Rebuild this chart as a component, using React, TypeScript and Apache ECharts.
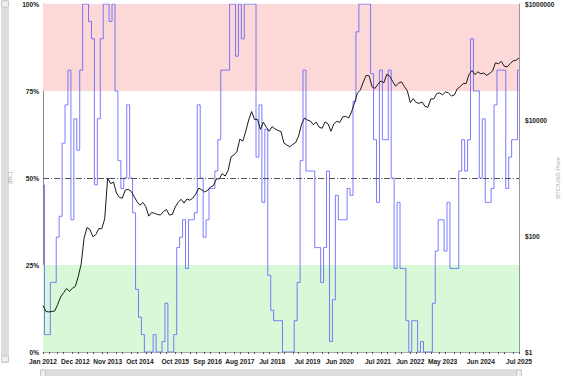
import React, { useEffect, useRef } from "react";
import * as echarts from "echarts";

const MONTH_NAMES = ["Jan", "Feb", "Mar", "Apr", "May", "Jun", "Jul", "Aug", "Sep", "Oct", "Nov", "Dec"];
const START_YEAR = 2012;
const MONTH_COUNT = 163; // Jan 2012 .. Jul 2025

const categories: string[] = [];
for (let i = 0; i < MONTH_COUNT; i++) {
  categories.push(MONTH_NAMES[i % 12] + " " + (START_YEAR + Math.floor(i / 12)));
}

const tickLabels = [
  "Jan 2012", "Dec 2012", "Nov 2013", "Oct 2014", "Oct 2015", "Sep 2016", "Aug 2017",
  "Jul 2018", "Jul 2019", "Jun 2020", "Jul 2021", "Jun 2022", "May 2023", "Jun 2024", "Jul 2025",
];

// Oscillator [BC] in %, monthly
const oscillator = [
  48, 5, 5, 20, 20, 33, 39, 60, 71, 81, 38, 67,
  58, 81, 100, 100, 95, 90, 48, 67, 90, 100, 100, 95,
  100, 75, 55, 47, 50, 71, 50, 40, 18, 10, 5, 0,
  0, 0, 5, 0, 0, 3, 14, 0, 0, 5, 30, 33,
  38, 24, 38, 38, 40, 71, 50, 33, 38, 47, 47, 52,
  61, 81, 81, 81, 100, 100, 85, 100, 90, 100, 100, 100,
  100, 56, 71, 43, 64, 22, 12, 9, 9, 9, 0, 0,
  0, 0, 9, 20, 55, 81, 52, 52, 52, 30, 30, 20,
  30, 52, 3, 15, 45, 38, 38, 38, 47, 45, 72, 92,
  100, 100, 100, 100, 80, 61, 43, 81, 61, 61, 81, 50,
  24, 43, 24, 24, 9, 0, 9, 9, 0, 3, 0, 0,
  0, 14, 29, 38, 38, 29, 43, 24, 24, 24, 52, 61,
  52, 61, 90, 75, 75, 50, 67, 43, 43, 47, 71, 81,
  81, 81, 47, 56, 61, 61, 81,
];

// BTC/USD price, monthly
const btcPrice = [
  6.3, 5.0, 4.9, 5.0, 5.1, 6.6, 8.9, 10.5, 12.4, 11.2, 12.5, 13.5,
  20, 33, 93, 140, 129, 97, 106, 135, 133, 198, 1000, 800,
  850, 550, 460, 450, 620, 640, 590, 480, 390, 340, 380, 320,
  220, 255, 245, 235, 230, 265, 285, 230, 235, 315, 380, 430,
  370, 435, 415, 450, 530, 670, 625, 575, 610, 700, 740, 960,
  970, 1190, 1080, 1350, 2300, 2500, 2850, 4700, 4300, 6400, 10000, 14000,
  10200, 10300, 6900, 9200, 7500, 6400, 7700, 7000, 6600, 6300, 4000, 3700,
  3450, 3800, 4100, 5300, 8500, 10800, 10000, 9600, 8300, 9200, 7500, 7200,
  9300, 8600, 6400, 8600, 9500, 9100, 11300, 11600, 10800, 13800, 19700, 29000,
  33000, 45000, 58800, 57700, 37300, 35000, 41500, 47100, 43800, 61300, 57000, 46300,
  38500, 43200, 45500, 37700, 31800, 19900, 23300, 20000, 19400, 20500, 17200, 16500,
  23100, 23100, 28500, 29200, 27200, 30500, 29200, 26000, 27000, 34500, 37700, 42300,
  42600, 61200, 71300, 60700, 67500, 62700, 64600, 59000, 63300, 70200, 96400, 93400,
  102400, 84400, 82500, 94200, 104600, 107100, 117000,
];

const FONT = "Liberation Sans";

export default function App() {
  const ref = useRef<HTMLDivElement>(null);

  useEffect(() => {
    document.body.style.margin = "0";
    if (!ref.current) return;
    const chart = echarts.init(ref.current, undefined, { renderer: "svg" });
    const labelStyle = { fontSize: 6.6, fontWeight: "bold" as const, color: "#222", fontFamily: FONT };
    chart.setOption({
      animation: false,
      grid: { left: 43, right: 45, top: 4, bottom: 24, containLabel: false, outerBoundsMode: "none" },
      xAxis: {
        type: "category",
        data: categories,
        boundaryGap: false,
        axisLine: { show: true, lineStyle: { color: "#aaa", width: 1 } },
        axisTick: {
          show: true,
          interval: (i: number) => i % 5 === 0 || i % 5 === 2,
          length: 2,
          lineStyle: { color: "#555" },
        },
        axisLabel: {
          ...labelStyle,
          interval: (_i: number, v: string) => tickLabels.includes(v),
          margin: 6,
        },
        splitLine: { show: false },
      },
      yAxis: [
        {
          type: "value",
          min: 0,
          max: 100,
          interval: 25,
          position: "left",
          name: "[BC]",
          nameLocation: "middle",
          nameGap: 30,
          nameRotate: 90,
          nameMoveOverlap: false,
          nameTextStyle: { color: "#aaa", fontSize: 6, fontFamily: FONT },
          axisLine: { show: true, lineStyle: { color: "#888" } },
          axisTick: { show: false },
          axisLabel: { ...labelStyle, formatter: "{value}%", margin: 4 },
          splitLine: { show: false },
        },
        {
          type: "log",
          logBase: 10,
          min: 1,
          max: 1000000,
          interval: 2,
          splitNumber: 3,
          position: "right",
          name: "BTC/USD Price",
          nameLocation: "middle",
          nameGap: 36,
          nameRotate: 90,
          nameMoveOverlap: false,
          nameTextStyle: { color: "#aaa", fontSize: 6, fontFamily: FONT },
          axisLine: { show: true, lineStyle: { color: "#999" } },
          axisTick: { show: false },
          axisLabel: { ...labelStyle, formatter: (v: number) => "$" + Math.round(v), margin: 6 },
          splitLine: { show: false },
        },
      ],
      series: [
        {
          name: "BC",
          type: "line",
          yAxisIndex: 0,
          data: oscillator,
          symbol: "none",
          step: "middle",
          lineStyle: { color: "#5a5aff", width: 1, opacity: 0.8 },
          z: 3,
          markArea: {
            silent: true,
            data: [
              [{ yAxis: 75, itemStyle: { color: "#fdd8d8" } }, { yAxis: 100 }],
              [{ yAxis: 0, itemStyle: { color: "#d8f9d8" } }, { yAxis: 25 }],
            ],
          },
          markLine: {
            silent: true,
            symbol: "none",
            label: { show: false },
            lineStyle: { color: "#555", width: 1, type: [6, 2, 1, 2] },
            data: [{ yAxis: 50 }],
          },
        },
        {
          name: "BTC/USD",
          type: "line",
          yAxisIndex: 1,
          data: btcPrice,
          symbol: "none",
          lineStyle: { color: "#1a1a1a", width: 1 },
          z: 4,
        },
      ],
      graphic: [
        { type: "rect", shape: { x: 1, y: 0, width: 8, height: 363 }, style: { fill: "#dedede" }, silent: true },
        { type: "rect", shape: { x: 1.5, y: 1, width: 7, height: 6, r: 1 }, style: { fill: "#eeeeee", stroke: "#aaa", lineWidth: 0.5 }, silent: true },
        { type: "rect", shape: { x: 1.5, y: 356, width: 7, height: 6, r: 1 }, style: { fill: "#eeeeee", stroke: "#aaa", lineWidth: 0.5 }, silent: true },
        { type: "rect", shape: { x: 40, y: 369, width: 482, height: 10 }, style: { fill: "#dedede" }, silent: true },
        { type: "rect", shape: { x: 40.5, y: 370, width: 5, height: 8, r: 1 }, style: { fill: "#eeeeee", stroke: "#aaa", lineWidth: 0.5 }, silent: true },
        { type: "rect", shape: { x: 516.5, y: 370, width: 5, height: 8, r: 1 }, style: { fill: "#eeeeee", stroke: "#aaa", lineWidth: 0.5 }, silent: true },
      ],
    });
    return () => chart.dispose();
  }, []);

  return <div ref={ref} style={{ width: 564, height: 376 }} />;
}
